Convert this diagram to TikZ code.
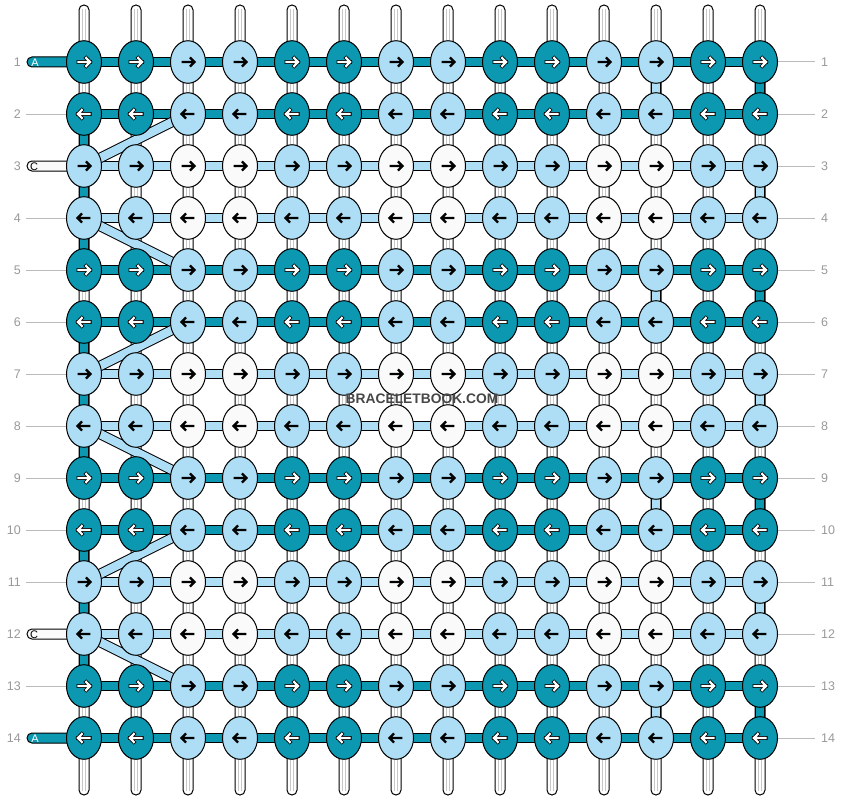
\documentclass[tikz,border=0pt]{standalone}
\usepackage{fontspec}
\setmainfont{Liberation Sans}
\usetikzlibrary{shapes.geometric}
\definecolor{ca}{HTML}{0B98B0}
\definecolor{cb}{HTML}{AEDEF5}
\definecolor{cc}{HTML}{FAFAFA}
\definecolor{lblgray}{HTML}{999999}
\definecolor{linegray}{HTML}{BBBBBB}
\tikzset{
  knot/.style={ellipse, draw=black, line width=1pt, minimum width=35pt, minimum height=42.6pt, inner sep=0pt},
  thrA/.style={draw=black, line width=10.4pt, postaction={draw=ca, line width=8.4pt}},
  thrB/.style={draw=black, line width=10.4pt, postaction={draw=cb, line width=8.4pt}},
  basestr/.style={draw=black, line width=1pt, fill=white, rounded corners=4.9pt},
  basein/.style={draw=black!22, line width=0.6pt},
  lbl/.style={text=lblgray, font=\fontsize{12.5}{13}\selectfont, inner sep=0pt},
  gline/.style={draw=linegray, line width=1pt},
  stubA/.style={draw=black, line width=1pt, fill=ca, rounded corners=4.9pt},
  stubC/.style={draw=black, line width=1pt, fill=cc, rounded corners=4.9pt},
  stubtxt/.style={font=\fontsize{11}{11}\selectfont, inner sep=0pt},
  arrk/.pic={\draw[black, line width=2.3pt, line join=miter] (-6.3,0) -- (6.5,0) (2,-4.6) -- (6.5,0) -- (2,4.6);},
  arrw/.pic={\draw[black, line width=3.8pt, line join=miter, line cap=rect] (-5.6,0) -- (6,0) (2.2,-4) -- (6,0) -- (2.2,4);
             \draw[white, line width=2.2pt, line join=miter, line cap=rect] (-5.6,0) -- (6,0) (2.2,-4) -- (6,0) -- (2.2,4);},
}
\begin{document}
\begin{tikzpicture}[x=1pt, y=-1pt]
\fill[white] (0,0) rectangle (844,800);
\useasboundingbox (0,0) rectangle (844,800);
% grid coordinates
\foreach \r in {1,...,14}{
  \foreach \c in {1,...,14}{
    \coordinate (p-\r-\c) at ({84+52*(\c-1)},{62+52*(\r-1)});
  }
}
% base strings
\foreach \c in {1,...,14}{
  \coordinate (top-\c) at ({84+52*(\c-1)},5);
  \coordinate (bot-\c) at ({84+52*(\c-1)},795);
  \draw[basestr] ([xshift=-5pt]top-\c) rectangle ([xshift=5pt]bot-\c);
  \draw[basein] ([xshift=-1.5pt,yshift=-4pt]top-\c) -- ([xshift=-1.5pt,yshift=4pt]bot-\c);
  \draw[basein] ([xshift=1.5pt,yshift=-4pt]top-\c) -- ([xshift=1.5pt,yshift=4pt]bot-\c);
}
% coloured vertical pieces
\foreach \r [evaluate=\r as \s using int(\r+1)] in {2,3,4,6,7,8,10,11,12}
  \draw[thrA] (p-\r-1) -- (p-\s-1);
\foreach \r [evaluate=\r as \s using int(\r+1)] in {1,5,9,13}{
  \draw[thrB] (p-\r-12) -- (p-\s-12);
  \draw[thrA] (p-\r-14) -- (p-\s-14);
}
\foreach \r [evaluate=\r as \s using int(\r+1)] in {3,7,11}
  \draw[thrB] (p-\r-14) -- (p-\s-14);
% horizontal threads
\foreach \r in {1,2,5,6,9,10,13,14}
  \draw[thrA] (p-\r-1) -- (p-\r-14);
\foreach \r in {3,4,7,8,11,12}
  \draw[thrB] (p-\r-1) -- (p-\r-14);
% start stubs
\draw[stubA] (27,57) rectangle (84,67);
\node[stubtxt, text=white] (sA-1) at (35,62.5) {A};
\draw[stubA] (27,733) rectangle (84,743);
\node[stubtxt, text=white] (sA-14) at (35,738.5) {A};
\draw[stubC] (27,161) rectangle (84,171);
\node[stubtxt, text=black] (sC-3) at (34,166.5) {C};
\draw[stubC] (27,629) rectangle (84,639);
\node[stubtxt, text=black] (sC-12) at (34,634.5) {C};
% row labels
\foreach \r in {1,...,14}{
  \node[lbl, anchor=east] (lL-\r) at (21,{62+52*(\r-1)}) {\r};
  \node[lbl, anchor=west] (lR-\r) at (821,{62+52*(\r-1)}) {\r};
  \draw[gline] (p-\r-14) -- ([xshift=-6pt]lR-\r.west);
}
\foreach \r in {2,4,5,6,7,8,9,10,11,13}
  \draw[gline] ([xshift=5pt]lL-\r.east) -- (p-\r-1);
% diagonal carried threads
\foreach \r [evaluate=\r as \s using int(\r+1)] in {2,6,10}
  \draw[thrB] (p-\s-1) -- (p-\r-3);
\foreach \r [evaluate=\r as \s using int(\r+1)] in {4,8,12}
  \draw[thrB] (p-\r-1) -- (p-\s-3);
% knots
\foreach \r in {1,...,14}{
  \foreach \c in {1,...,14}{
    \pgfmathtruncatemacro\ri{mod(\r-1,4)<2 ? 0 : 1}
    \pgfmathtruncatemacro\ci{mod(\c-1,4)<2 ? 0 : 1}
    \pgfmathtruncatemacro\kk{\ri+\ci}
    \pgfmathtruncatemacro\dd{mod(\r,2)}
    \ifcase\kk \def\kc{ca}\or \def\kc{cb}\else \def\kc{cc}\fi
    \node[knot, fill=\kc] (n-\r-\c) at (p-\r-\c) {};
    \ifnum\kk=0
      \ifnum\dd=1 \pic at (n-\r-\c) {arrw}; \else \pic[xscale=-1] at (n-\r-\c) {arrw}; \fi
    \else
      \ifnum\dd=1 \pic at (n-\r-\c) {arrk}; \else \pic[xscale=-1] at (n-\r-\c) {arrk}; \fi
    \fi
  }
}
% watermark
\node[font=\bfseries\fontsize{13.8}{14}\selectfont, text=black!72, inner sep=0pt] (wm) at (422,399) {BRACELETBOOK.COM};
\end{tikzpicture}
\end{document}
